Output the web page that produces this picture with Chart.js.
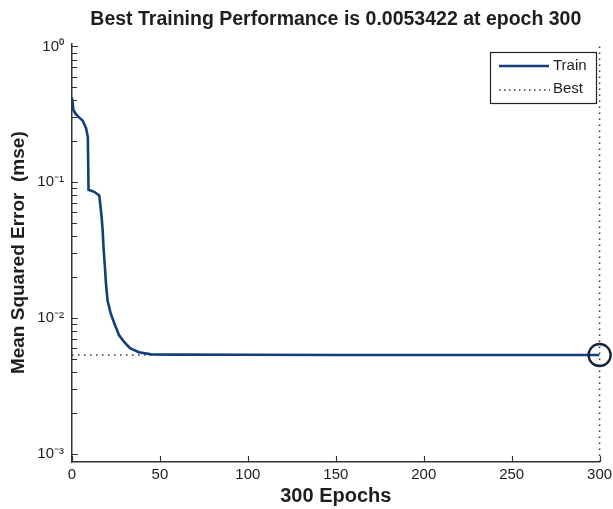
<!DOCTYPE html>
<html>
<head>
<meta charset="utf-8">
<script src="https://cdn.jsdelivr.net/npm/chart.js@4.4.1/dist/chart.umd.min.js"></script>
<style>
  html, body { margin: 0; padding: 0; background: #ffffff; }
  #wrap { width: 613px; height: 509px; position: relative; }
</style>
</head>
<body>
<div id="wrap"><canvas id="c" width="613" height="509"></canvas></div>
<script>
// ---- data ----
const trainEpochs = [0, 0.8, 2, 4, 6, 8, 9, 9.4, 12.6, 15.5, 16, 16.8, 17.4, 18, 18.6, 19.3, 20.2, 22, 24, 26.7, 29.5, 33, 38, 45, 60, 100, 150, 200, 250, 300];
const trainMse    = [0.42, 0.34, 0.32, 0.30, 0.285, 0.25, 0.215, 0.088, 0.085, 0.080, 0.070, 0.056, 0.045, 0.032, 0.025, 0.018, 0.0135, 0.0108, 0.0092, 0.0075, 0.0067, 0.0060, 0.0056, 0.0054, 0.00538, 0.00536, 0.00535, 0.00535, 0.00534, 0.0053422];
const bestEpoch = 300;
const bestMse = 0.0053422;
const xTicks = [0, 50, 100, 150, 200, 250, 300];
const yTicks = [0.001, 0.01, 0.1, 1];
const yTickLabels = ['10\u207B\u00B3', '10\u207B\u00B2', '10\u207B\u00B9', '10\u2070'];
const yMin = Math.pow(10, -3.06);
const yMax = Math.pow(10, 0.022);
const titleText = 'Best Training Performance is ' + bestMse + ' at epoch ' + bestEpoch;

const AXIS = '#2b3333';
const NAVY = '#123f78';
const TEXT = '#1e1e1e';
const FONT = '"Liberation Sans", Arial, sans-serif';

const trainData = trainEpochs.map((e, i) => ({ x: e, y: trainMse[i] }));
const bestHData = [{ x: xTicks[0], y: bestMse }, { x: bestEpoch, y: bestMse }];
const bestVData = [{ x: bestEpoch, y: yMin }, { x: bestEpoch, y: yMax }];

// center the title over the plot area (as in the reference)
const titleCenter = {
  id: 'titleCenter',
  afterLayout(chart) {
    const tb = chart.titleBlock;
    if (tb) { tb.left = chart.chartArea.left; tb.right = chart.chartArea.right; }
  }
};

// inward ticks (MATLAB style)
const tickPlugin = {
  id: 'inTicks',
  afterDraw(chart) {
    const { ctx, chartArea: a } = chart;
    const xs = chart.scales.x, ys = chart.scales.y;
    ctx.save();
    ctx.strokeStyle = AXIS;
    ctx.lineWidth = 1.2;
    ctx.beginPath();
    xTicks.forEach(t => {
      const px = Math.round(xs.getPixelForValue(t)) + 0.5;
      ctx.moveTo(px, a.bottom);
      ctx.lineTo(px, a.bottom - 6);
    });
    for (let k = -3; k <= 0; k++) {
      for (let m = 1; m <= 9; m++) {
        const v = m * Math.pow(10, k);
        if (v < yMin || v > yMax) continue;
        const py = Math.round(ys.getPixelForValue(v)) + 0.5;
        ctx.moveTo(a.left, py);
        ctx.lineTo(a.left + (m === 1 ? 6 : 5), py);
      }
    }
    ctx.stroke();
    ctx.restore();
  }
};

// legend box inside the axes
const legendPlugin = {
  id: 'boxLegend',
  afterDraw(chart) {
    const { ctx } = chart;
    const L = 490, T = 52, R = 596, B = 103;
    ctx.save();
    ctx.fillStyle = '#ffffff';
    ctx.fillRect(L, T, R - L, B - T);
    ctx.strokeStyle = '#222';
    ctx.lineWidth = 1.2;
    ctx.strokeRect(L + 0.5, T + 0.5, R - L, B - T);
    ctx.strokeStyle = NAVY;
    ctx.lineWidth = 2.5;
    ctx.beginPath(); ctx.moveTo(499, 66); ctx.lineTo(549, 66); ctx.stroke();
    ctx.strokeStyle = '#333';
    ctx.lineWidth = 1.5;
    ctx.setLineDash([1.5, 3.5]);
    ctx.beginPath(); ctx.moveTo(499, 90); ctx.lineTo(550, 90); ctx.stroke();
    ctx.setLineDash([]);
    ctx.fillStyle = TEXT;
    ctx.font = '15px ' + FONT;
    ctx.textBaseline = 'middle';
    ctx.textAlign = 'left';
    ctx.fillText('Train', 553, 66);
    ctx.fillText('Best', 553, 89);
    ctx.restore();
  }
};

new Chart(document.getElementById('c'), {
  type: 'line',
  data: {
    datasets: [
      {
        label: 'Train', data: trainData, borderColor: NAVY, borderWidth: 2.6,
        pointRadius: 0, tension: 0, order: 1
      },
      {
        label: 'Best', data: bestHData, borderColor: '#333', borderWidth: 1.5,
        borderDash: [1.5, 4.5], pointRadius: 0, order: 3
      },
      {
        label: 'BestV', data: bestVData, borderColor: '#333', borderWidth: 1.5,
        borderDash: [1.5, 4.5], pointRadius: 0, order: 3, clip: false
      },
      {
        label: 'BestMark', data: [{ x: bestEpoch, y: bestMse }], showLine: false,
        pointRadius: 11, pointBorderWidth: 2.4, pointBorderColor: '#14243a',
        pointBackgroundColor: 'rgba(0,0,0,0)', order: 0, clip: false
      }
    ]
  },
  options: {
    responsive: false,
    animation: false,
    devicePixelRatio: 1,
    layout: { padding: { left: 0, right: 13, top: 0, bottom: 0 } },
    plugins: {
      legend: { display: false },
      tooltip: { enabled: false },
      title: {
        display: true, text: titleText, color: TEXT,
        font: { family: FONT, size: 19.5, weight: 'bold' },
        padding: { top: 8, bottom: 12 }
      }
    },
    scales: {
      x: {
        type: 'linear', min: 0, max: 300,
        afterBuildTicks: s => { s.ticks = xTicks.map(v => ({ value: v })); },
        afterFit: s => { s.height = 47; s.paddingLeft = 0; s.paddingRight = 0; },
        grid: { display: false, drawTicks: false },
        border: { display: true, color: AXIS, width: 1.5 },
        ticks: { color: TEXT, padding: 4, maxRotation: 0, font: { family: FONT, size: 15 } },
        title: {
          display: true, text: '300 Epochs', color: TEXT,
          font: { family: FONT, size: 20, weight: 'bold' },
          padding: { top: 0, bottom: 1 }
        }
      },
      y: {
        type: 'logarithmic', min: yMin, max: yMax,
        afterBuildTicks: s => { s.ticks = yTicks.map(v => ({ value: v })); },
        afterFit: s => { s.width = 72; s.paddingTop = 0; s.paddingBottom = 0; },
        grid: { display: false, drawTicks: false },
        border: { display: true, color: AXIS, width: 1.5 },
        ticks: {
          color: TEXT, padding: 8,
          font: { family: FONT, size: 15 },
          callback: (v) => { const i = yTicks.findIndex(t => Math.abs(t - v) / t < 1e-6); return i >= 0 ? yTickLabels[i] : ''; }
        },
        title: {
          display: true, text: 'Mean Squared Error  (mse)', color: TEXT,
          font: { family: FONT, size: 19, weight: 'bold' },
          padding: { top: 7, bottom: 0 }
        }
      }
    }
  },
  plugins: [titleCenter, tickPlugin, legendPlugin]
});
</script>
</body>
</html>
